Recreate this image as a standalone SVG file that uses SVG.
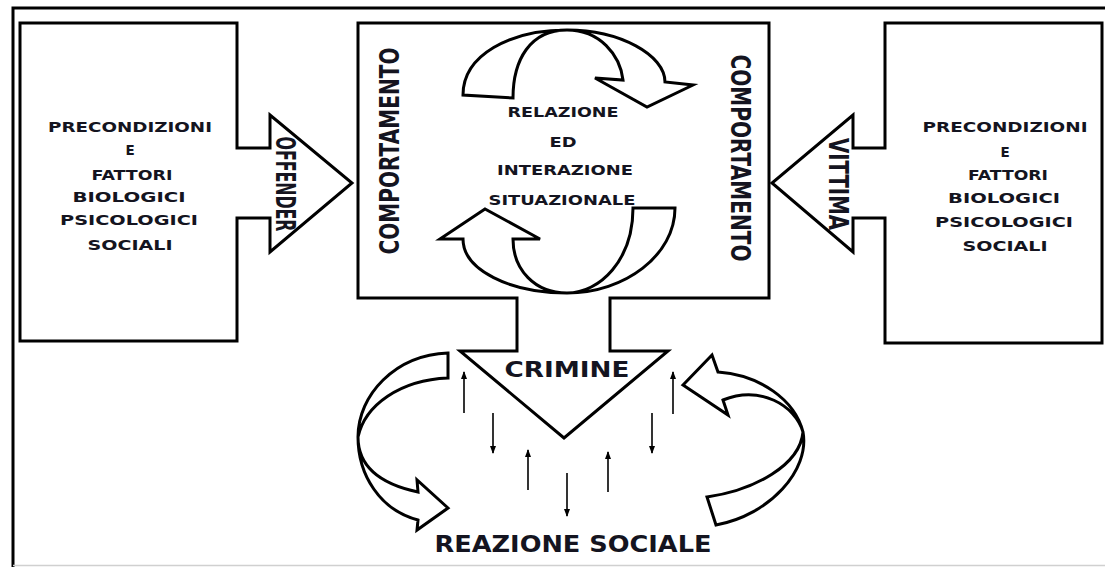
<svg xmlns="http://www.w3.org/2000/svg" width="1105" height="567" viewBox="0 0 1105 567">
<style>
.sh{fill:#fff;stroke:#000;stroke-width:3;stroke-linejoin:miter}
.t{font-family:"DejaVu Sans",sans-serif;font-weight:bold;fill:#141420;text-anchor:middle}
.s{font-size:13.5px}
.v{font-size:27px}
.a{stroke:#000;stroke-width:1.6;fill:none}
</style>
<defs>
<marker id="ah" viewBox="0 0 8 8" refX="7" refY="4" markerWidth="8" markerHeight="8" markerUnits="userSpaceOnUse" orient="auto">
<path d="M0,1 L8,4 L0,7 Z" fill="#000"/>
</marker>
</defs>
<rect width="1105" height="567" fill="#fff"/>
<g id="frame">
<path d="M13,567 L13,8 L1105,8" fill="none" stroke="#000" stroke-width="3"/>
<line x1="13" y1="565.5" x2="1105" y2="565.5" stroke="#d0d0d0" stroke-width="1.5"/>
</g>
<g id="offender-box">
<path class="sh" d="M20,23 L237,23 L237,148 L270,148 L270,115 L352,183 L270,252 L270,218 L237,218 L237,341 L20,341 Z"/>
<text class="t s" x="130" y="132" textLength="164" lengthAdjust="spacingAndGlyphs">PRECONDIZIONI</text>
<text class="t s" x="130" y="155">E</text>
<text class="t s" x="132" y="180" textLength="81" lengthAdjust="spacingAndGlyphs">FATTORI</text>
<text class="t s" x="129" y="202" textLength="113" lengthAdjust="spacingAndGlyphs">BIOLOGICI</text>
<text class="t s" x="129" y="225" textLength="138" lengthAdjust="spacingAndGlyphs">PSICOLOGICI</text>
<text class="t s" x="130" y="250" textLength="85" lengthAdjust="spacingAndGlyphs">SOCIALI</text>
<text class="t" font-size="26" transform="translate(276,184) rotate(90)" textLength="95" lengthAdjust="spacingAndGlyphs">OFFENDER</text>
</g>
<g id="center-box">
<path class="sh" d="M358,23 L769,23 L769,298 L610,298 L610,351 L668,351 L564,438 L460,351 L517,351 L517,298 L358,298 Z"/>
<text class="t v" transform="translate(399,151) rotate(-90)" textLength="207" lengthAdjust="spacingAndGlyphs">COMPORTAMENTO</text>
<text class="t v" transform="translate(731,158) rotate(90)" textLength="207" lengthAdjust="spacingAndGlyphs">COMPORTAMENTO</text>
<text class="t s" x="563" y="117" textLength="111" lengthAdjust="spacingAndGlyphs">RELAZIONE</text>
<text class="t s" x="563" y="147" textLength="27" lengthAdjust="spacingAndGlyphs">ED</text>
<text class="t s" x="565" y="175" textLength="136" lengthAdjust="spacingAndGlyphs">INTERAZIONE</text>
<text class="t s" x="562" y="205" textLength="147" lengthAdjust="spacingAndGlyphs">SITUAZIONALE</text>
<path class="sh" d="M463,95 C463,55 510,30 567,30 C620,30 665,55 665,82 L693,85 L647,107 L595,78 L623,80 C620,55 600,30 567,30 C530,30 513,60 513,98 Z"/>
<path class="sh" d="M633,208 L675,208 C675,255 625,293 567,293 C535,293 513,270 513,239 L540,239 L485,209 L440,239 L463,239 C463,270 510,293 567,293 C600,293 633,260 633,208 Z"/>
<text class="t" font-size="22" x="567" y="377" textLength="125" lengthAdjust="spacingAndGlyphs">CRIMINE</text>
</g>
<g id="vittima-box">
<path class="sh" d="M1102,23 L885,23 L885,148 L853,148 L853,115 L772,183 L853,252 L853,218 L885,218 L885,343 L1102,343 Z"/>
<text class="t s" x="1005" y="132" textLength="165" lengthAdjust="spacingAndGlyphs">PRECONDIZIONI</text>
<text class="t s" x="1005" y="157">E</text>
<text class="t s" x="1008" y="180" textLength="80" lengthAdjust="spacingAndGlyphs">FATTORI</text>
<text class="t s" x="1004" y="203" textLength="112" lengthAdjust="spacingAndGlyphs">BIOLOGICI</text>
<text class="t s" x="1004" y="227" textLength="138" lengthAdjust="spacingAndGlyphs">PSICOLOGICI</text>
<text class="t s" x="1005" y="251" textLength="85" lengthAdjust="spacingAndGlyphs">SOCIALI</text>
<text class="t" font-size="26" transform="translate(829,184) rotate(90)" textLength="92" lengthAdjust="spacingAndGlyphs">VITTIMA</text>
</g>
<g id="reazione-sociale">
<text class="t" font-size="23" x="573" y="552" textLength="277" lengthAdjust="spacingAndGlyphs">REAZIONE SOCIALE</text>
</g>
<g id="connectors">
<path class="sh" d="M448,353 L448,378 C400,380 365,405 358,437 C358,470 385,485 418,492 L417,480 L448,508 L417,530 L418,520 C380,510 358,475 358,437 C358,395 395,355 448,353 Z"/>
<path class="sh" d="M683,385 L712,355 L718,372 C760,375 795,400 803,432 C810,470 770,515 716,525 L707,497 C755,490 800,465 803,432 C795,405 760,385 723,400 L728,415 Z"/>
<line class="a" x1="464" y1="413" x2="464" y2="372" marker-end="url(#ah)"/>
<line class="a" x1="493" y1="413" x2="493" y2="453" marker-end="url(#ah)"/>
<line class="a" x1="528" y1="490" x2="528" y2="450" marker-end="url(#ah)"/>
<line class="a" x1="567" y1="473" x2="567" y2="516" marker-end="url(#ah)"/>
<line class="a" x1="608" y1="492" x2="608" y2="452" marker-end="url(#ah)"/>
<line class="a" x1="652" y1="413" x2="652" y2="453" marker-end="url(#ah)"/>
<line class="a" x1="673" y1="414" x2="673" y2="372" marker-end="url(#ah)"/>
</g>
</svg>
